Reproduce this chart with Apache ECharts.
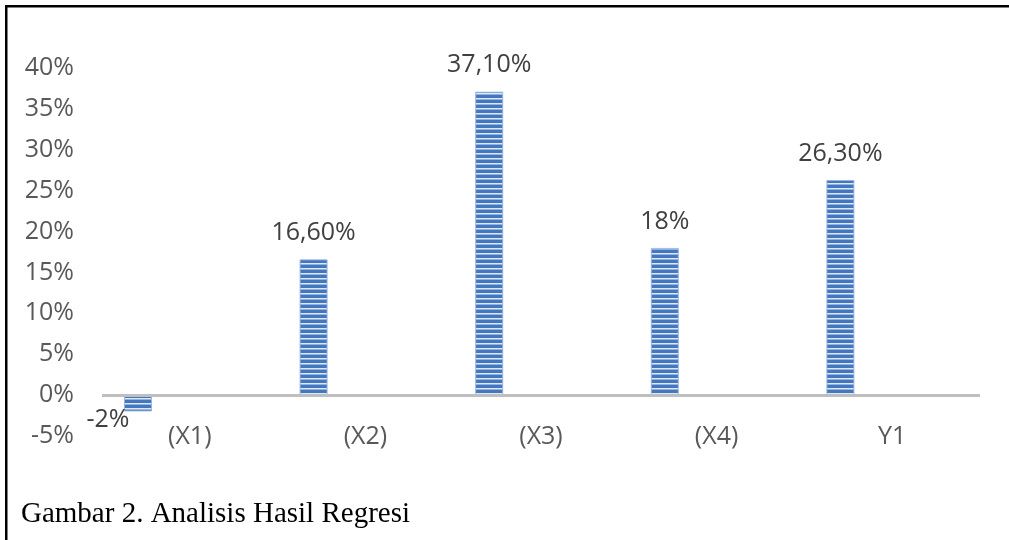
<!DOCTYPE html>
<html>
<head>
<meta charset="utf-8">
<script src="https://cdn.jsdelivr.net/npm/echarts@6/dist/echarts.min.js"></script>
<style>
html,body{margin:0;padding:0;background:#fff;}
#chart{width:1009px;height:540px;}
</style>
</head>
<body>
<div id="chart"></div>
<script>
var categories = ['(X1)', '(X2)', '(X3)', '(X4)', 'Y1'];
var values = [-2, 16.6, 37.1, 18, 26.3];
var dataLabels = ['-2%', '16,60%', '37,10%', '18%', '26,30%'];
var yTicks = { min: -5, max: 40, interval: 5 };
var caption = 'Gambar 2. Analisis Hasil Regresi';

// striped pattern fill
var pat = document.createElement('canvas');
pat.width = 4; pat.height = 5;
var ctx = pat.getContext('2d');
ctx.fillStyle = '#4577bf'; ctx.fillRect(0, 0, 4, 5);
ctx.fillStyle = '#dde7f5'; ctx.fillRect(0, 3, 4, 1);
ctx.fillStyle = '#94b2de'; ctx.fillRect(0, 4, 4, 1);

var FONT = '"Open Sans", "Noto Sans", sans-serif';

var seriesData = values.map(function (v, i) {
  if (v < 0) {
    return { value: v, label: { position: 'bottom', distance: 5, offset: [-30, -9] } };
  }
  return v;
});

var chart = echarts.init(document.getElementById('chart'), null, { renderer: 'canvas' });
chart.setOption({
  animation: false,
  backgroundColor: '#ffffff',
  grid: { left: 102, right: 29, top: 68, bottom: 104, containLabel: false },
  xAxis: {
    type: 'category',
    data: categories,
    axisLine: { show: false },
    axisTick: { show: false },
    axisLabel: { color: '#595959', fontSize: 25, fontFamily: FONT, margin: 1, verticalAlign: 'middle' },
    splitLine: { show: false }
  },
  yAxis: {
    type: 'value',
    min: yTicks.min, max: yTicks.max, interval: yTicks.interval,
    axisLine: { show: false },
    axisTick: { show: false },
    splitLine: { show: false },
    axisLabel: { color: '#595959', fontSize: 25, fontFamily: FONT, margin: 28, formatter: '{value}%' }
  },
  series: [
    {
      type: 'bar',
      data: seriesData,
      barWidth: 28,
      itemStyle: { color: { image: pat, repeat: 'repeat' }, borderColor: 'rgba(150,180,225,0.9)', borderWidth: 1 },
      label: {
        show: true, position: 'top', distance: 14,
        color: '#404040', fontSize: 25, fontFamily: FONT,
        formatter: function (p) { return dataLabels[p.dataIndex]; }
      },
      markLine: {
        silent: true, symbol: 'none', animation: false,
        label: { show: false },
        lineStyle: { color: '#bfbfbf', width: 3, type: 'solid' },
        data: [{ yAxis: 0 }]
      }
    },
    {
      type: 'bar',
      data: values.map(function () { return null; }),
      barWidth: 28,
      barGap: '270%'
    }
  ],
  graphic: [
    { type: 'rect', shape: { x: 5, y: 5, width: 1004, height: 2.5 }, style: { fill: '#000' } },
    { type: 'rect', shape: { x: 5, y: 5, width: 2.5, height: 535 }, style: { fill: '#000' } },
    { type: 'text', left: 21, top: 500, style: { text: caption, fill: '#000', font: '29px "Liberation Serif", "Times New Roman", serif' } }
  ]
});
</script>
</body>
</html>
